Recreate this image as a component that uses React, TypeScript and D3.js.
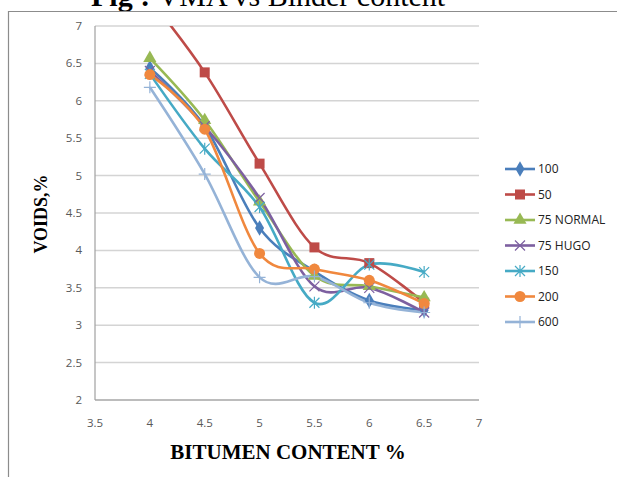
import React from "react";
import * as d3 from "d3";

// Bitumen content (%) at which voids were measured
const binderContent = [4, 4.5, 5, 5.5, 6, 6.5];

// Voids (%) per mix
const voids100 = [6.44, 5.66, 4.3, 3.72, 3.33, 3.2];
const voids50 = [7.36, 6.38, 5.16, 4.04, 3.83, 3.3];
const voids75Normal = [6.57, 5.74, 4.65, 3.66, 3.52, 3.37];
const voids75Hugo = [6.4, 5.66, 4.7, 3.52, 3.5, 3.17];
const voids150 = [6.36, 5.36, 4.58, 3.3, 3.81, 3.71];
const voids200 = [6.35, 5.62, 3.96, 3.75, 3.6, 3.29];
const voids600 = [6.18, 5.02, 3.64, 3.65, 3.3, 3.17];

const seriesNames = ["100", "50", "75 NORMAL", "75 HUGO", "150", "200", "600"];
const seriesValues = [voids100, voids50, voids75Normal, voids75Hugo, voids150, voids200, voids600];
const seriesColors = ["#4a7ebb", "#be4b48", "#98b954", "#7d60a0", "#46aac5", "#f0883e", "#95b3d7"];
const markerKinds = ["diamond", "square", "triangle", "x", "star", "circle", "plus"];

const xTicks = [3.5, 4, 4.5, 5, 5.5, 6, 6.5, 7];
const yTicks = [2, 2.5, 3, 3.5, 4, 4.5, 5, 5.5, 6, 6.5, 7];

const W = 617;
const H = 477;
const plot = { left: 95, right: 479, top: 26, bottom: 400 };

const x = d3.scaleLinear().domain([3.5, 7]).range([plot.left, plot.right]);
const y = d3.scaleLinear().domain([2, 7]).range([plot.bottom, plot.top]);

const tickFont = "'Open Sans', 'Noto Sans', sans-serif";

function Marker({ kind, color, cx, cy }: { kind: string; color: string; cx: number; cy: number }) {
  const t = `translate(${cx},${cy})`;
  if (kind === "diamond")
    return <path transform={t} d={d3.symbol(d3.symbolDiamond, 70)()!} fill={color} />;
  if (kind === "square")
    return <rect x={cx - 5} y={cy - 5} width={10} height={10} fill={color} />;
  if (kind === "triangle")
    return <path transform={t} d={d3.symbol(d3.symbolTriangle, 75)()!} fill={color} />;
  if (kind === "circle") return <circle cx={cx} cy={cy} r={5.5} fill={color} />;
  const r = 5;
  if (kind === "x")
    return (
      <path
        transform={t}
        d={`M${-r},${-r}L${r},${r}M${-r},${r}L${r},${-r}`}
        stroke={color}
        strokeWidth={1.2}
        fill="none"
      />
    );
  if (kind === "star")
    return (
      <path
        transform={t}
        d={`M${-r},${-r}L${r},${r}M${-r},${r}L${r},${-r}M0,${-r - 1}L0,${r + 1}`}
        stroke={color}
        strokeWidth={1.2}
        fill="none"
      />
    );
  return (
    <path
      transform={t}
      d={`M${-r - 1},0L${r + 1},0M0,${-r - 1}L0,${r + 1}`}
      stroke={color}
      strokeWidth={1.2}
      fill="none"
    />
  );
}

export default function App() {
  const line = d3
    .line<number>()
    .x((_, i) => x(binderContent[i]))
    .y((v) => y(v))
    .curve(d3.curveCardinal.tension(0));

  const legendX = 505;
  const legendY0 = 169;
  const legendStep = 25.5;

  return (
    <svg
      width={W}
      height={H}
      style={{ position: "absolute", left: 0, top: 0, background: "#fff" }}
      xmlns="http://www.w3.org/2000/svg"
    >
      <defs>
        <clipPath id="plotClip">
          <rect x={plot.left} y={plot.top} width={plot.right - plot.left} height={plot.bottom - plot.top} />
        </clipPath>
      </defs>

      {/* Figure caption, running off the top of the page */}
      <text x={91} y={6} fontFamily="'Liberation Serif', serif" fontSize={30} fill="#000">
        <tspan fontWeight="bold">Fig : </tspan>
        <tspan>VMA vs Binder content</tspan>
      </text>

      {/* Chart frame */}
      <path d={`M8.5,${H + 2}V11.5H${W + 2}`} stroke="#8c8c8c" strokeWidth={1.2} fill="none" />

      {/* Gridlines */}
      {yTicks.map((t) => (
        <line
          key={t}
          x1={plot.left}
          x2={plot.right}
          y1={y(t)}
          y2={y(t)}
          stroke={t === 2 ? "#a6a6a6" : "#d4d4d4"}
          strokeWidth={1.5}
        />
      ))}
      <line x1={plot.left} x2={plot.left} y1={plot.top} y2={plot.bottom} stroke="#a0a0a0" strokeWidth={1.2} />

      {/* Y tick labels */}
      {yTicks.map((t) => (
        <text
          key={t}
          x={plot.left - 13}
          y={y(t)}
          dy="0.35em"
          textAnchor="end"
          fontFamily={tickFont}
          fontSize={11.5}
          fill="#595959"
        >
          {t}
        </text>
      ))}

      {/* X tick labels */}
      {xTicks.map((t) => (
        <text
          key={t}
          x={x(t)}
          y={423}
          dy="0.35em"
          textAnchor="middle"
          fontFamily={tickFont}
          fontSize={11.5}
          fill="#595959"
        >
          {t}
        </text>
      ))}

      {/* Axis titles */}
      <text
        x={288}
        y={452}
        dy="0.35em"
        textAnchor="middle"
        fontFamily="'Liberation Serif', serif"
        fontWeight="bold"
        fontSize={21}
        fill="#000"
      >
        BITUMEN CONTENT %
      </text>
      <text
        transform="translate(41,214) rotate(-90)"
        dy="0.35em"
        textAnchor="middle"
        fontFamily="'Liberation Serif', serif"
        fontWeight="bold"
        fontSize={18}
        fill="#000"
      >
        VOIDS,%
      </text>

      {/* Series lines and markers */}
      <g clipPath="url(#plotClip)">
        {seriesValues.map((vals, s) => (
          <path key={s} d={line(vals)!} fill="none" stroke={seriesColors[s]} strokeWidth={2.6} strokeLinejoin="round" />
        ))}
        {seriesValues.map((vals, s) =>
          vals.map((v, i) => (
            <Marker key={`${s}-${i}`} kind={markerKinds[s]} color={seriesColors[s]} cx={x(binderContent[i])} cy={y(v)} />
          ))
        )}
      </g>

      {/* Legend */}
      {seriesNames.map((name, s) => {
        const ly = legendY0 + s * legendStep;
        return (
          <g key={name}>
            <line x1={legendX} x2={legendX + 30} y1={ly} y2={ly} stroke={seriesColors[s]} strokeWidth={2.6} />
            <Marker kind={markerKinds[s]} color={seriesColors[s]} cx={legendX + 15} cy={ly} />
            <text x={legendX + 33} y={ly} dy="0.35em" fontFamily={tickFont} fontSize={12} fill="#222">
              {name}
            </text>
          </g>
        );
      })}
    </svg>
  );
}
